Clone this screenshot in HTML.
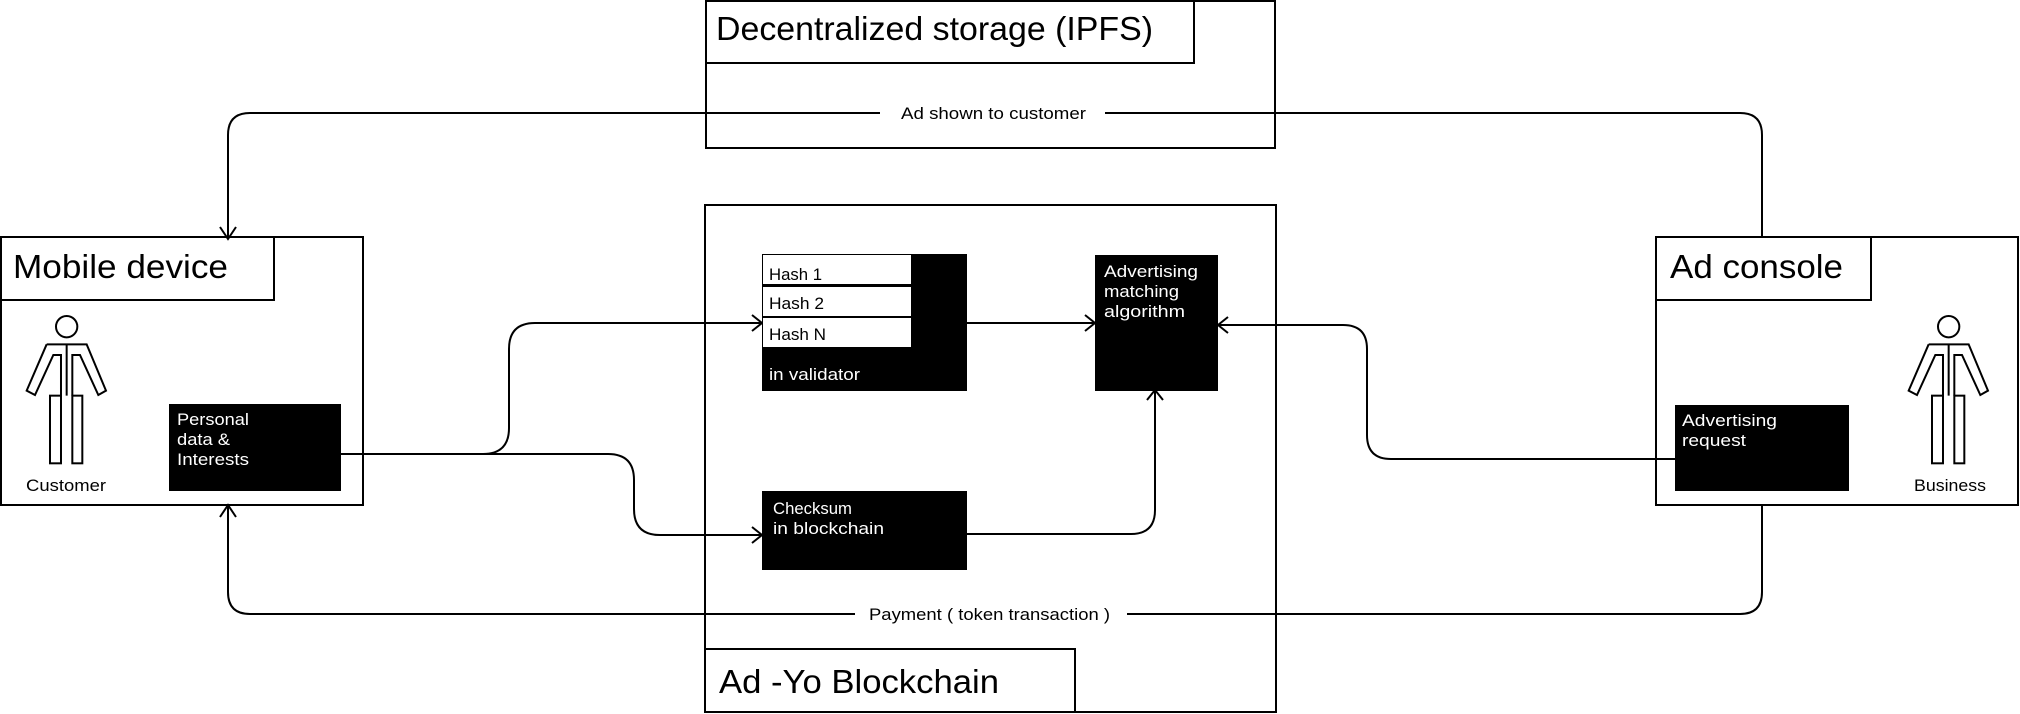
<!DOCTYPE html>
<html><head><meta charset="utf-8"><style>
html,body{margin:0;padding:0;background:#fff;}
svg{display:block;}
text{font-family:"Liberation Sans",sans-serif;}
</style></head><body>
<svg width="2020" height="714" viewBox="0 0 2020 714" xmlns="http://www.w3.org/2000/svg">
<defs>
<g id="fig" fill="none" stroke="#000" stroke-width="6">
  <circle cx="200" cy="80" r="32"/>
  <path d="M140,133 L260,133 L318,272 L295,285 L240,165 L217,165 L217,287 M183,287 L183,165 L160,165 L105,285 L80,272 L140,133 M200,133 L200,287"/>
  <rect x="150" y="287" width="33" height="203"/>
  <rect x="217" y="287" width="30" height="203"/>
</g>
</defs>
<g fill="none" stroke="#000" stroke-width="2">
  <rect x="706" y="1" width="569" height="147"/>
  <rect x="706" y="1" width="488" height="62"/>
  <rect x="705" y="205" width="571" height="507"/>
  <rect x="705" y="649" width="370" height="63"/>
  <rect x="1" y="237" width="362" height="268"/>
  <rect x="1" y="237" width="273" height="63"/>
  <rect x="1656" y="237" width="362" height="268"/>
  <rect x="1656" y="237" width="215" height="63"/>
  <path d="M1762,237 L1762,135 Q1762,113 1740,113 L1105,113 M880,113 L250,113 Q228,113 228,135 L228,237"/>
  <path d="M220,227 L228,239 L236,227"/>
  <path d="M1762,505 L1762,592 Q1762,614 1740,614 L1127,614 M855,614 L250,614 Q228,614 228,592 L228,507"/>
  <path d="M220,517 L228,505 L236,517"/>
  <path d="M341,454 L483,454 Q509,454 509,428 L509,349 Q509,323 535,323 L762,323"/>
  <path d="M752,315 L762,323 L752,331"/>
  <path d="M483,454 L608,454 Q634,454 634,480 L634,509 Q634,535 660,535 L762,535"/>
  <path d="M752,527 L762,535 L752,543"/>
  <path d="M966,323 L1095,323"/>
  <path d="M1085,315 L1095,323 L1085,331"/>
  <path d="M966,534 L1131,534 Q1155,534 1155,510 L1155,390"/>
  <path d="M1147,400 L1155,390 L1163,400"/>
  <path d="M1675,459 L1391,459 Q1367,459 1367,435 L1367,349 Q1367,325 1343,325 L1218,325"/>
  <path d="M1228,317 L1218,325 L1228,333"/>
</g>
<rect x="169" y="404" width="172" height="87" fill="#000"/>
<rect x="762" y="254" width="205" height="137" fill="#000"/>
<rect x="763" y="255" width="148" height="29" fill="#fff"/>
<rect x="763" y="287" width="148" height="29" fill="#fff"/>
<rect x="763" y="318" width="148" height="29" fill="#fff"/>
<rect x="1095" y="255" width="123" height="136" fill="#000"/>
<rect x="762" y="491" width="205" height="79" fill="#000"/>
<rect x="1675" y="405" width="174" height="86" fill="#000"/>
<g transform="translate(0,300) scale(0.3333)"><use href="#fig"/></g>
<g transform="translate(1882,300) scale(0.3333)"><use href="#fig"/></g>
<g fill="#000">
  <text x="716" y="40" font-size="33" textLength="437" lengthAdjust="spacingAndGlyphs">Decentralized storage (IPFS)</text>
  <text x="13" y="278" font-size="33" textLength="215" lengthAdjust="spacingAndGlyphs">Mobile device</text>
  <text x="1670" y="278" font-size="33" textLength="173" lengthAdjust="spacingAndGlyphs">Ad console</text>
  <text x="719" y="693" font-size="33" textLength="280" lengthAdjust="spacingAndGlyphs">Ad -Yo Blockchain</text>
  <text x="901" y="119" font-size="17" textLength="185" lengthAdjust="spacingAndGlyphs">Ad shown to customer</text>
  <text x="869" y="620" font-size="17" textLength="241" lengthAdjust="spacingAndGlyphs">Payment ( token transaction )</text>
  <text x="26" y="491" font-size="17" textLength="80" lengthAdjust="spacingAndGlyphs">Customer</text>
  <text x="1914" y="491" font-size="17" textLength="72" lengthAdjust="spacingAndGlyphs">Business</text>
  <text x="769" y="280" font-size="17" textLength="53" lengthAdjust="spacingAndGlyphs">Hash 1</text>
  <text x="769" y="309" font-size="17" textLength="55" lengthAdjust="spacingAndGlyphs">Hash 2</text>
  <text x="769" y="340" font-size="17" textLength="57" lengthAdjust="spacingAndGlyphs">Hash N</text>
</g>
<g fill="#fff" font-size="17">
  <text x="177" y="425" textLength="72" lengthAdjust="spacingAndGlyphs">Personal</text>
  <text x="177" y="445" textLength="53" lengthAdjust="spacingAndGlyphs">data &amp;</text>
  <text x="177" y="465" textLength="72" lengthAdjust="spacingAndGlyphs">Interests</text>
  <text x="769" y="380" textLength="91" lengthAdjust="spacingAndGlyphs">in validator</text>
  <text x="1104" y="277" textLength="94" lengthAdjust="spacingAndGlyphs">Advertising</text>
  <text x="1104" y="297" textLength="75" lengthAdjust="spacingAndGlyphs">matching</text>
  <text x="1104" y="317" textLength="81" lengthAdjust="spacingAndGlyphs">algorithm</text>
  <text x="773" y="514" textLength="79" lengthAdjust="spacingAndGlyphs">Checksum</text>
  <text x="773" y="534" textLength="111" lengthAdjust="spacingAndGlyphs">in blockchain</text>
  <text x="1682" y="426" textLength="95" lengthAdjust="spacingAndGlyphs">Advertising</text>
  <text x="1682" y="446" textLength="64" lengthAdjust="spacingAndGlyphs">request</text>
</g>
</svg>
</body></html>
